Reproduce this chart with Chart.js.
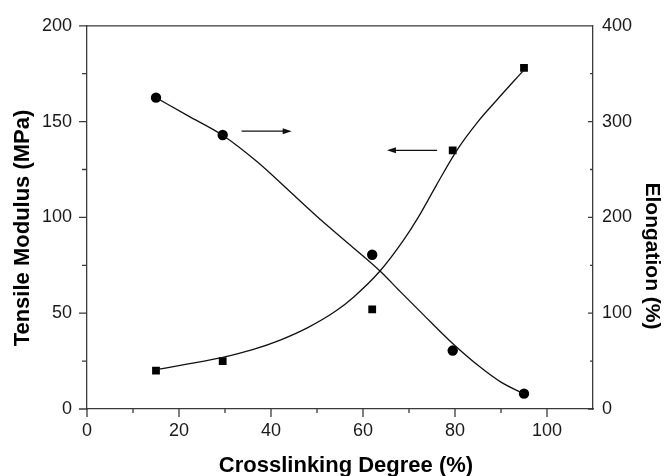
<!DOCTYPE html>
<html>
<head>
<meta charset="utf-8">
<script src="https://cdn.jsdelivr.net/npm/chart.js@4.4.0/dist/chart.umd.min.js"></script>
<style>
    html, body { margin: 0; padding: 0; background: #fff; }
    #wrap { width: 664px; height: 476px; }
</style>
</head>
<body>
<div id="wrap"><canvas id="chart" width="664" height="476"></canvas></div>
<script>
/* ===== DATA ===== */
const crosslinking = [15, 29.5, 62, 79.5, 95];
const modulus = [20, 25, 52, 135, 178];        // MPa, left axis
const elongation = [325, 286, 161, 61, 16];    // %, right axis

// smooth fit curves
const modulusFitX = [15, 22, 29.5, 36, 42, 48, 54, 58, 63.7, 68.7, 72, 76, 80.4, 85, 89, 95];
const modulusFitY = [20.5, 23.5, 27, 31, 36, 42.5, 51, 58.5, 72, 87.7, 100, 117, 135, 150, 161, 177];
const elongationFitX = [15, 22, 29.4, 37, 44.1, 50, 57, 63.7, 68, 73, 78.9, 85.4, 90, 95.3];
const elongationFitY = [325, 306, 286, 258, 227, 201, 172, 144, 123, 99, 71, 44, 28, 15];

// tick labels
const xTicks = [0, 20, 40, 60, 80, 100];
const leftTicks = [0, 50, 100, 150, 200];
const rightTicks = [0, 100, 200, 300, 400];

// arrows telling which axis each curve belongs to (left-axis units)
const arrows = [
    { from: 33.6, to: 44.5, level: 145 },
    { from: 76.1, to: 65.2, level: 135 }
];

const axisColor = '#3a3a3a';
const textColor = '#1a1a1a';
const fontFamily = '"Liberation Sans", Arial, Helvetica, sans-serif';

function pts(xs, ys) {
    return xs.map((x, i) => ({ x: x, y: ys[i] }));
}

/* ===== TICKS, FRAME, ARROWS, AXIS TITLES ===== */
const frameTicks = {
    id: 'frameTicks',
    afterDraw(chart) {
        const { ctx, chartArea: a, scales } = chart;
        ctx.save();
        ctx.strokeStyle = axisColor;
        ctx.lineWidth = 1.3;
        ctx.beginPath();
        ctx.moveTo(a.left, a.top);
        ctx.lineTo(a.right, a.top);
        // left: outward
        for (let v = 0; v <= 200; v += 25) {
            const y = scales.y.getPixelForValue(v);
            const len = v % 50 === 0 ? 8 : 5;
            ctx.moveTo(a.left - len, y);
            ctx.lineTo(a.left, y);
        }
        // bottom: outward
        for (let v = 0; v < 110; v += 10) {
            const x = scales.x.getPixelForValue(v);
            const len = v % 20 === 0 ? 8 : 4;
            ctx.moveTo(x, a.bottom);
            ctx.lineTo(x, a.bottom + len);
        }
        // right: inward
        for (let v = 0; v <= 400; v += 50) {
            const y = scales.y2.getPixelForValue(v);
            const len = v % 100 === 0 ? 5 : 3;
            ctx.moveTo(a.right - len, y);
            ctx.lineTo(a.right, y);
        }
        ctx.stroke();

        ctx.strokeStyle = '#111';
        ctx.fillStyle = '#111';
        ctx.lineWidth = 1.2;
        arrows.forEach(ar => {
            const x1 = scales.x.getPixelForValue(ar.from);
            const x2 = scales.x.getPixelForValue(ar.to);
            const y = scales.y.getPixelForValue(ar.level);
            const dir = x2 > x1 ? 1 : -1;
            ctx.beginPath();
            ctx.moveTo(x1, y);
            ctx.lineTo(x2 - dir * 6, y);
            ctx.stroke();
            ctx.beginPath();
            ctx.moveTo(x2, y);
            ctx.lineTo(x2 - dir * 9, y - 3);
            ctx.lineTo(x2 - dir * 9, y + 3);
            ctx.closePath();
            ctx.fill();
        });

        // axis titles (the original sits them a little off-centre)
        ctx.fillStyle = '#000';
        ctx.textAlign = 'center';
        ctx.textBaseline = 'middle';
        ctx.font = 'bold 22px ' + fontFamily;
        ctx.fillText('Crosslinking Degree (%)', 346, 466);

        ctx.save();
        ctx.translate(23, 228);
        ctx.rotate(-Math.PI / 2);
        ctx.fillText('Tensile Modulus (MPa)', 0, 0);
        ctx.restore();

        ctx.save();
        ctx.font = 'bold 21px ' + fontFamily;
        ctx.translate(652, 256);
        ctx.rotate(Math.PI / 2);
        ctx.fillText('Elongation (%)', 0, 0);
        ctx.restore();

        ctx.restore();
    }
};

/* ===== CHART ===== */
new Chart(document.getElementById('chart').getContext('2d'), {
    type: 'scatter',
    data: {
        datasets: [
            {
                label: 'Modulus fit',
                data: pts(modulusFitX, modulusFitY),
                yAxisID: 'y',
                showLine: true,
                cubicInterpolationMode: 'monotone',
                borderColor: '#111',
                borderWidth: 1.3,
                pointRadius: 0
            },
            {
                label: 'Elongation fit',
                data: pts(elongationFitX, elongationFitY),
                yAxisID: 'y2',
                showLine: true,
                cubicInterpolationMode: 'monotone',
                borderColor: '#111',
                borderWidth: 1.3,
                pointRadius: 0
            },
            {
                label: 'Tensile Modulus',
                data: pts(crosslinking, modulus),
                yAxisID: 'y',
                pointStyle: 'rect',
                pointRadius: 5.5,
                backgroundColor: '#000',
                borderColor: '#000',
                borderWidth: 0
            },
            {
                label: 'Elongation',
                data: pts(crosslinking, elongation),
                yAxisID: 'y2',
                pointStyle: 'circle',
                pointRadius: 5.2,
                backgroundColor: '#000',
                borderColor: '#000',
                borderWidth: 0
            }
        ]
    },
    options: {
        responsive: false,
        animation: false,
        layout: { padding: { top: 24, left: 0, right: 0, bottom: 0 } },
        plugins: {
            legend: { display: false },
            tooltip: { enabled: false }
        },
        scales: {
            x: {
                type: 'linear',
                min: 0,
                max: 110,
                afterBuildTicks: s => { s.ticks = xTicks.map(v => ({ value: v })); },
                afterFit: s => { s.height = 67; },
                grid: { display: false, drawTicks: false },
                border: { display: true, color: axisColor, width: 1.3 },
                ticks: {
                    padding: 11,
                    color: textColor,
                    font: { family: fontFamily, size: 18 },
                    maxRotation: 0
                }
            },
            y: {
                position: 'left',
                min: 0,
                max: 200,
                afterBuildTicks: s => { s.ticks = leftTicks.map(v => ({ value: v })); },
                afterFit: s => { s.width = 87; },
                grid: { display: false, drawTicks: false },
                border: { display: true, color: axisColor, width: 1.3 },
                ticks: {
                    padding: 15,
                    color: textColor,
                    font: { family: fontFamily, size: 18 }
                }
            },
            y2: {
                position: 'right',
                min: 0,
                max: 400,
                afterBuildTicks: s => { s.ticks = rightTicks.map(v => ({ value: v })); },
                afterFit: s => { s.width = 71; },
                grid: { display: false, drawTicks: false },
                border: { display: true, color: axisColor, width: 1.3 },
                ticks: {
                    padding: 9,
                    color: textColor,
                    font: { family: fontFamily, size: 18 }
                }
            }
        }
    },
    plugins: [frameTicks]
});
</script>
</body>
</html>
